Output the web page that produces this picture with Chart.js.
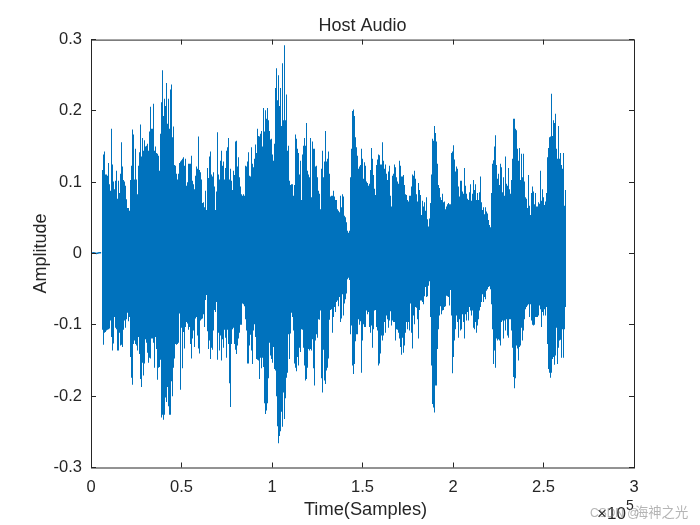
<!DOCTYPE html>
<html>
<head>
  <title>Host Audio</title>
  <script src="https://cdn.jsdelivr.net/npm/chart.js"></script>
  <style>
    html, body { margin: 0; padding: 0; background: #fff; }
    #wrap { width: 700px; height: 525px; }
  </style>
</head>
<body>
  <div id="wrap"><canvas id="audioChart" width="700" height="525"></canvas></div>

  <script>
    const titleText = 'Host Audio';
    const xLabel = 'Time(Samples)';
    const yLabel = 'Amplitude';
    const xTickLabels = ['0', '0.5', '1', '1.5', '2', '2.5', '3'];
    const yTickLabels = ['0.3', '0.2', '0.1', '0', '-0.1', '-0.2', '-0.3'];
    const watermarkLatin = 'CSDN @';
    const watermarkName = '海神之光';

    // quiet part before the signal starts
    const leadSamples = [0, 1500, 3000, 4500, 5600];
    const leadValues = [0.0005, 0.001, 0, 0.001, 0.001];

    // peak envelope, one column per screen pixel
    const firstSample = 6354;
    const samplesPerColumn = 552.486;

    const upperPeaks = [
      .117,.139,.143,.111,.111,.109,.127,.097,.088,.175,.125,.101,.090,.102,.116,.077,.102,.085,.112,.156,
      .122,.103,.101,.095,.076,.064,.064,.060,.103,.123,.174,.167,.104,.147,.104,.083,.123,.142,.181,.136,
      .162,.144,.159,.150,.151,.154,.144,.171,.206,.175,.175,.210,.144,.150,.141,.140,.137,.116,.168,.212,
      .257,.193,.217,.207,.239,.182,.217,.175,.230,.237,.163,.178,.124,.123,.112,.104,.112,.127,.129,.131,
      .133,.135,.123,.133,.095,.100,.126,.126,.126,.137,.102,.097,.090,.109,.122,.119,.164,.117,.114,.104,
      .071,.072,.065,.088,.061,.120,.106,.136,.143,.111,.108,.114,.094,.061,.087,.170,.111,.104,.130,.144,
      .123,.129,.104,.120,.144,.149,.162,.104,.119,.102,.089,.116,.110,.157,.158,.122,.135,.107,.094,.083,
      .081,.083,.081,.123,.122,.129,.142,.109,.108,.149,.126,.121,.133,.153,.141,.175,.165,.164,.168,.172,
      .150,.204,.171,.201,.189,.204,.187,.172,.160,.161,.139,.130,.154,.232,.260,.215,.250,.207,.232,.179,
      .267,.187,.292,.187,.223,.144,.151,.102,.096,.097,.097,.081,.096,.167,.161,.147,.141,.111,.130,.075,
      .139,.151,.162,.151,.183,.116,.111,.107,.162,.079,.157,.147,.147,.122,.123,.107,.088,.084,.062,.119,
      .144,.107,.129,.172,.129,.133,.143,.112,.080,.081,.081,.088,.080,.075,.075,.062,.060,.058,.081,.065,
      .083,.080,.053,.051,.044,.032,.029,.032,.107,.147,.200,.202,.193,.163,.149,.137,.119,.122,.124,.147,
      .133,.105,.128,.123,.101,.099,.095,.098,.117,.148,.133,.110,.091,.082,.124,.132,.139,.138,.125,.125,
      .156,.130,.119,.125,.112,.103,.115,.123,.081,.066,.109,.112,.125,.121,.107,.101,.098,.130,.123,.108,
      .108,.110,.096,.083,.082,.075,.073,.081,.081,.094,.111,.109,.116,.105,.083,.073,.099,.089,.082,.054,
      .074,.066,.072,.060,.079,.048,.038,.049,.071,.111,.161,.158,.179,.169,.157,.126,.096,.092,.079,.075,
      .084,.072,.073,.062,.066,.069,.071,.069,.069,.141,.143,.152,.132,.115,.122,.119,.094,.080,.102,.102,
      .087,.084,.120,.095,.084,.077,.075,.086,.097,.074,.084,.103,.089,.097,.075,.085,.075,.086,.108,.072,
      .061,.065,.055,.065,.059,.056,.047,.040,.037,.085,.126,.131,.150,.166,.124,.105,.112,.096,.126,.121,
      .086,.107,.081,.136,.098,.095,.120,.090,.084,.103,.133,.189,.189,.175,.173,.147,.130,.148,.103,.140,
      .107,.140,.101,.079,.077,.064,.110,.067,.054,.085,.094,.087,.069,.085,.066,.066,.072,.070,.116,.074,
      .090,.079,.068,.073,.085,.135,.148,.163,.164,.224,.165,.187,.183,.196,.147,.133,.179,.133,.141,.124,
      .119,.141,.067,.089
    ];

    const lowerPeaks = [
      -.107,-.128,-.111,-.110,-.108,-.107,-.106,-.105,-.094,-.117,-.136,-.126,-.089,-.104,-.106,-.136,-.136,-.111,-.129,-.128,
      -.131,-.107,-.094,-.104,-.092,-.083,-.095,-.089,-.145,-.174,-.184,-.127,-.122,-.127,-.129,-.136,-.117,-.141,-.176,-.187,
      -.153,-.171,-.154,-.120,-.125,-.139,-.153,-.146,-.147,-.119,-.119,-.125,-.160,-.117,-.134,-.177,-.160,-.159,-.149,-.230,
      -.226,-.233,-.226,-.202,-.208,-.187,-.214,-.226,-.226,-.179,-.200,-.160,-.147,-.127,-.128,-.127,-.125,-.084,-.191,-.104,
      -.161,-.110,-.133,-.103,-.096,-.098,-.107,-.103,-.127,-.147,-.119,-.108,-.131,-.091,-.089,-.115,-.133,-.140,-.094,-.092,
      -.091,-.085,-.103,-.065,-.058,-.109,-.134,-.122,-.148,-.132,-.135,-.108,-.079,-.082,-.068,-.149,-.111,-.136,-.115,-.150,
      -.120,-.132,-.107,-.118,-.146,-.107,-.127,-.182,-.215,-.127,-.106,-.104,-.127,-.135,-.141,-.129,-.119,-.111,-.100,-.100,
      -.070,-.071,-.074,-.092,-.108,-.154,-.154,-.129,-.114,-.136,-.155,-.108,-.099,-.117,-.148,-.149,-.150,-.176,-.146,-.161,
      -.146,-.159,-.210,-.225,-.220,-.210,-.175,-.125,-.143,-.148,-.153,-.131,-.162,-.164,-.200,-.242,-.266,-.256,-.249,-.222,
      -.243,-.195,-.232,-.203,-.174,-.167,-.113,-.148,-.112,-.083,-.089,-.108,-.154,-.160,-.165,-.145,-.157,-.132,-.138,-.106,
      -.107,-.132,-.157,-.178,-.176,-.160,-.134,-.136,-.134,-.136,-.120,-.161,-.185,-.122,-.113,-.118,-.092,-.093,-.080,-.175,
      -.195,-.135,-.178,-.183,-.164,-.160,-.147,-.093,-.079,-.078,-.111,-.089,-.075,-.082,-.068,-.066,-.074,-.061,-.096,-.091,
      -.057,-.087,-.070,-.064,-.056,-.036,-.034,-.037,-.113,-.101,-.157,-.169,-.155,-.123,-.113,-.113,-.092,-.100,-.095,-.167,
      -.122,-.099,-.103,-.103,-.080,-.085,-.082,-.103,-.111,-.101,-.132,-.106,-.080,-.079,-.103,-.108,-.157,-.154,-.140,-.115,
      -.122,-.115,-.096,-.111,-.087,-.092,-.104,-.094,-.081,-.101,-.094,-.096,-.096,-.122,-.106,-.107,-.111,-.119,-.131,-.142,
      -.118,-.139,-.129,-.111,-.096,-.106,-.096,-.108,-.070,-.111,-.133,-.087,-.099,-.075,-.076,-.092,-.119,-.079,-.066,-.066,
      -.068,-.071,-.060,-.047,-.061,-.060,-.045,-.039,-.089,-.157,-.211,-.216,-.223,-.185,-.185,-.134,-.106,-.087,-.074,-.085,
      -.080,-.079,-.075,-.074,-.059,-.060,-.061,-.073,-.051,-.087,-.168,-.145,-.122,-.106,-.087,-.096,-.118,-.092,-.108,-.106,
      -.085,-.096,-.119,-.085,-.094,-.082,-.094,-.075,-.080,-.087,-.080,-.104,-.106,-.096,-.111,-.101,-.092,-.080,-.075,-.068,
      -.057,-.068,-.061,-.064,-.052,-.050,-.047,-.046,-.050,-.071,-.106,-.155,-.136,-.160,-.119,-.122,-.120,-.122,-.129,-.096,
      -.094,-.119,-.094,-.108,-.092,-.115,-.118,-.092,-.092,-.108,-.132,-.173,-.189,-.175,-.129,-.133,-.150,-.131,-.129,-.104,
      -.122,-.108,-.092,-.078,-.075,-.073,-.071,-.089,-.071,-.094,-.100,-.101,-.100,-.089,-.089,-.089,-.087,-.073,-.078,-.103,
      -.082,-.087,-.078,-.087,-.075,-.127,-.162,-.167,-.174,-.167,-.148,-.145,-.156,-.143,-.104,-.155,-.132,-.122,-.121,-.146,
      -.106,-.146,-.106,-.075
    ];

    const ink = '#262626';
    const fontFamily = '"Liberation Sans", Arial, sans-serif';

    // MATLAB style box: inward ticks on all four sides, plus the x label, exponent and watermark
    const boxPlugin = {
      id: 'box',
      afterDatasetsDraw(chart) {
        const { ctx, chartArea: a, scales: { x, y } } = chart;
        const tick = 5;
        ctx.save();
        ctx.strokeStyle = ink;
        ctx.lineWidth = 1;
        ctx.strokeRect(a.left + 0.5, a.top + 0.5, a.right - a.left, a.bottom - a.top);
        ctx.beginPath();
        x.ticks.forEach(t => {
          const px = Math.floor(x.getPixelForValue(t.value)) + 0.5;
          ctx.moveTo(px, a.bottom); ctx.lineTo(px, a.bottom - tick);
          ctx.moveTo(px, a.top); ctx.lineTo(px, a.top + tick);
        });
        y.ticks.forEach(t => {
          const py = Math.floor(y.getPixelForValue(t.value)) + 0.5;
          ctx.moveTo(a.left, py); ctx.lineTo(a.left + tick, py);
          ctx.moveTo(a.right, py); ctx.lineTo(a.right - tick, py);
        });
        ctx.stroke();

        ctx.fillStyle = ink;
        ctx.textBaseline = 'alphabetic';
        ctx.textAlign = 'center';
        ctx.font = '18.3px ' + fontFamily;
        ctx.fillText(xLabel, 365.5, 515);
        ctx.textAlign = 'left';
        ctx.font = '17px ' + fontFamily;
        ctx.fillText('\u00d710', 597, 519);
        ctx.font = '14px ' + fontFamily;
        ctx.fillText('5', 626, 510);
        ctx.fillStyle = 'rgba(120,120,120,0.55)';
        ctx.font = '12px ' + fontFamily;
        ctx.fillText(watermarkLatin, 590, 517);
        ctx.font = '13.3px "Noto Sans CJK SC", ' + fontFamily;
        ctx.fillText(watermarkName, 635, 517);
        ctx.restore();
      }
    };

    new Chart(document.getElementById('audioChart'), {
      type: 'bar',
      data: {
        datasets: [
          {
            type: 'line',
            data: leadSamples.map((s, i) => ({ x: s, y: leadValues[i] })),
            borderColor: '#0072BD',
            borderWidth: 1.5,
            pointRadius: 0
          },
          {
            data: upperPeaks.map((v, i) => ({ x: firstSample + i * samplesPerColumn, y: [lowerPeaks[i], v] })),
            backgroundColor: '#0072BD',
            borderWidth: 0,
            borderSkipped: false,
            inflateAmount: 0,
            barThickness: 1
          }
        ]
      },
      options: {
        responsive: false,
        animation: false,
        devicePixelRatio: 1,
        layout: { padding: { left: 0, right: 66, top: 0, bottom: 0 } },
        plugins: {
          legend: { display: false },
          tooltip: { enabled: false },
          title: {
            display: true,
            text: titleText,
            color: ink,
            fullSize: false,
            font: { family: fontFamily, size: 18, weight: 'normal' },
            padding: { top: 15, bottom: 3 }
          }
        },
        scales: {
          x: {
            type: 'linear',
            min: 0,
            max: 300000,
            offset: false,
            grid: { display: false, offset: false },
            border: { display: false },
            ticks: {
              stepSize: 50000,
              maxRotation: 0,
              autoSkip: false,
              color: ink,
              padding: 2,
              font: { family: fontFamily, size: 16.5 },
              callback: (v, i) => xTickLabels[i]
            },
            afterFit: s => { s.height = 57.5; }
          },
          y: {
            min: -0.3,
            max: 0.3,
            grid: { display: false },
            border: { display: false },
            ticks: {
              stepSize: 0.1,
              autoSkip: false,
              color: ink,
              padding: 1,
              font: { family: fontFamily, size: 16.5 },
              callback: (v, i, all) => yTickLabels[all.length - 1 - i]
            },
            title: {
              display: true,
              text: yLabel,
              color: ink,
              font: { family: fontFamily, size: 18 },
              padding: { top: 30, bottom: 6 }
            },
            afterFit: s => { s.width = 91; }
          }
        }
      },
      plugins: [boxPlugin]
    });
  </script>
</body>
</html>
